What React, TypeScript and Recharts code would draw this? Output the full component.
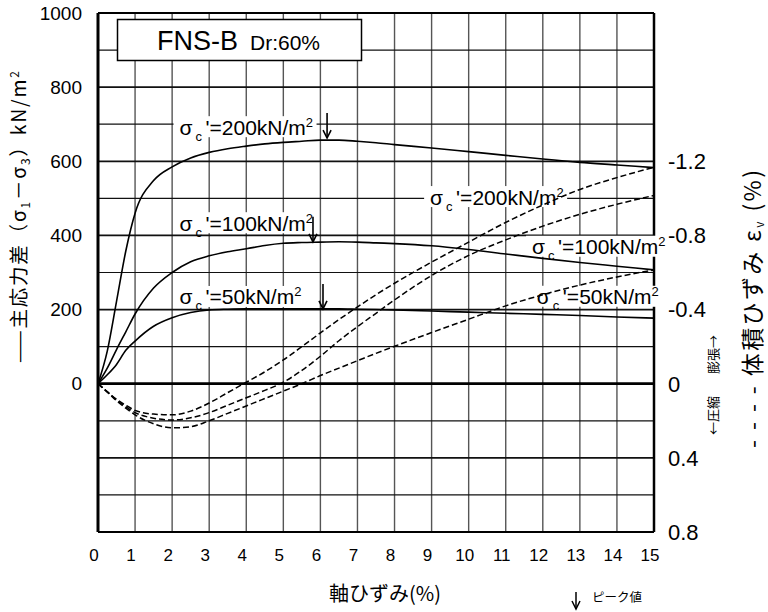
import React from 'react';
import { LineChart, Line, XAxis, YAxis, ReferenceLine, ReferenceDot } from 'recharts';

// axial strain (%) sampled along every curve
const STRAIN = [0, 0.25, 0.5, 0.75, 1, 1.5, 2, 2.5, 3, 3.5, 4, 4.5, 5, 5.5, 6, 6.5, 7, 7.5, 8, 9, 10, 11, 12, 13, 14, 15];

// principal stress difference (σ1−σ3), kN/m², per confining pressure
const Q_200 = [0, 88, 222, 358, 460, 548, 585, 609, 624, 634, 641, 647, 651, 654, 657, 657, 654, 650, 645, 636, 626, 616, 606, 597, 590, 583];
const Q_100 = [0, 42, 92, 140, 188, 258, 300, 329, 345, 356, 364, 373, 379, 381, 382, 383, 382, 380, 378, 372, 362, 350, 338, 327, 317, 307];
const Q_50 = [0, 24, 52, 90, 115, 155, 178, 192, 199, 201, 202, 202, 202, 202, 202, 202, 201, 200, 199, 196, 193, 190, 187, 184, 180, 177];

// volumetric strain εv (%), compression positive
const EV_200 = [0, 0.044, 0.084, 0.116, 0.144, 0.164, 0.168, 0.148, 0.104, 0.048, -0.008, -0.064, -0.128, -0.2, -0.274, -0.346, -0.414, -0.48, -0.542, -0.656, -0.764, -0.87, -0.964, -1.048, -1.112, -1.168];
const EV_100 = [0, 0.044, 0.088, 0.124, 0.156, 0.186, 0.196, 0.184, 0.156, 0.116, 0.076, 0.036, -0.008, -0.072, -0.148, -0.232, -0.308, -0.38, -0.452, -0.584, -0.692, -0.776, -0.85, -0.914, -0.968, -1.016];
const EV_50 = [0, 0.044, 0.092, 0.132, 0.168, 0.216, 0.238, 0.232, 0.2, 0.16, 0.12, 0.08, 0.04, 0, -0.044, -0.084, -0.124, -0.164, -0.202, -0.276, -0.348, -0.42, -0.48, -0.532, -0.576, -0.614];

// axes and grid
const STRAIN_TICKS = [0, 1, 2, 3, 4, 5, 6, 7, 8, 9, 10, 11, 12, 13, 14, 15];
const Q_TICKS = [0, 200, 400, 600, 800, 1000];
const EV_TICKS = [-1.2, -0.8, -0.4, 0, 0.4, 0.8];
const GRID_STRAIN = [1, 2, 3, 4, 5, 6, 7, 8, 9, 10, 11, 12, 13, 14];
const GRID_Q = [-300, -200, -100, 100, 200, 300, 400, 500, 600, 700, 800, 900];

// confining pressure tags
const LOADS = ['200', '100', '50'];
const Q_TAG_STRAIN = [2.2, 2.2, 2.2];
const Q_TAG_AT = [692, 433, 234];
const EV_TAG_STRAIN = [8.96, 11.71, 11.84];
const EV_TAG_AT = [-1.007, -0.739, -0.469];
const PEAK_STRAIN = [6.18, 5.8, 6.07];
const PEAK_Q = [660, 380, 199];

const ROWS = STRAIN.map((s, i) => ({
  strain: s,
  q200: Q_200[i],
  q100: Q_100[i],
  q50: Q_50[i],
  ev200: EV_200[i],
  ev100: EV_100[i],
  ev50: EV_50[i],
}));

const FONT = "'Liberation Sans', Arial, Helvetica, sans-serif";
const JP = "'Noto Sans CJK JP', 'Noto Sans', sans-serif";

const XTick = (p: any) => (
  <text x={p.x - 4} y={p.y} dy="0.71em" textAnchor="middle" fontSize={17} fontFamily={FONT} fill="#000">
    {p.payload.value}
  </text>
);

const QTick = (p: any) => (
  <text x={p.x} y={p.y} dy="0.355em" textAnchor="end" fontSize={19} fontFamily={FONT} fill="#000">
    {p.payload.value}
  </text>
);

const EvTick = (p: any) => {
  const v = p.payload.value as number;
  return (
    <text x={p.x} y={p.y} dy="0.355em" textAnchor="start" fontSize={22} fontFamily={FONT} fill="#000">
      {v === 0 ? '0' : v.toFixed(1)}
    </text>
  );
};

const sigmaTag = (load: string) => (p: any) => {
  const x = p.cx;
  const base = p.cy + 7.5;
  const w = load.length > 2 ? 143 : 131;
  return (
    <g>
      <rect x={x - 6} y={p.cy - 11} width={w} height={21} fill="#fff" />
      <text fontFamily={FONT} fontSize={21} fill="#000">
        <tspan x={x} y={base}>σ</tspan>
        <tspan x={x + 16} y={base + 6} fontSize={13}>c</tspan>
        <tspan x={x + 26} y={base}>{`'=${load}kN/m`}</tspan>
        <tspan dy={-8} fontSize={13}>2</tspan>
      </text>
    </g>
  );
};

const peakArrow = (p: any) => (
  <g stroke="#000" strokeWidth={1.6} fill="none">
    <line x1={p.cx} y1={p.cy - 26} x2={p.cx} y2={p.cy - 1} />
    <polyline points={`${p.cx - 4},${p.cy - 9} ${p.cx},${p.cy - 1} ${p.cx + 4},${p.cy - 9}`} />
  </g>
);

export default function App() {
  return (
    <div style={{ position: 'fixed', left: 0, top: 0, width: 768, height: 612, background: '#fff' }}>
      <LineChart width={768} height={612} data={ROWS} margin={{ top: 13, right: 54, bottom: 40, left: 38 }}>
        <XAxis
          dataKey="strain"
          type="number"
          domain={[0, 15]}
          ticks={STRAIN_TICKS}
          interval={0}
          height={40}
          tickSize={0}
          tickMargin={17}
          axisLine={false}
          tickLine={false}
          tick={XTick}
        />
        <YAxis
          yAxisId="q"
          orientation="left"
          type="number"
          width={60}
          domain={[-400, 1000]}
          ticks={Q_TICKS}
          interval={0}
          tickSize={0}
          tickMargin={16}
          axisLine={false}
          tickLine={false}
          tick={QTick}
        />
        <YAxis
          yAxisId="ev"
          orientation="right"
          type="number"
          width={60}
          domain={[-2, 0.8]}
          reversed
          ticks={EV_TICKS}
          interval={0}
          tickSize={0}
          tickMargin={14}
          axisLine={false}
          tickLine={false}
          tick={EvTick}
        />

        {GRID_STRAIN.map((s) => (
          <ReferenceLine key={`gx${s}`} x={s} yAxisId="q" stroke="#555" strokeWidth={1.4} zIndex={0} />
        ))}
        {GRID_Q.map((v) => (
          <ReferenceLine key={`gy${v}`} y={v} yAxisId="q" stroke="#111" strokeWidth={v % 200 === 0 ? 1.7 : 1.2} zIndex={0} />
        ))}
        <ReferenceLine y={0} yAxisId="q" stroke="#000" strokeWidth={2.8} zIndex={0} />
        <ReferenceLine y={1000} yAxisId="q" stroke="#000" strokeWidth={2} zIndex={0} />
        <ReferenceLine y={-400} yAxisId="q" stroke="#000" strokeWidth={2.2} zIndex={0} />
        <ReferenceLine x={0} yAxisId="q" stroke="#000" strokeWidth={3} zIndex={0} />
        <ReferenceLine x={15} yAxisId="q" stroke="#000" strokeWidth={2.5} zIndex={0} />

        {LOADS.map((load, i) => (
          <ReferenceDot key={`qt${load}`} x={Q_TAG_STRAIN[i]} y={Q_TAG_AT[i]} yAxisId="q" r={0} zIndex={50} shape={sigmaTag(load)} />
        ))}
        {LOADS.map((load, i) => (
          <ReferenceDot key={`et${load}`} x={EV_TAG_STRAIN[i]} y={EV_TAG_AT[i]} yAxisId="ev" r={0} zIndex={50} shape={sigmaTag(load)} />
        ))}
        {LOADS.map((load, i) => (
          <ReferenceDot key={`pk${load}`} x={PEAK_STRAIN[i]} y={PEAK_Q[i]} yAxisId="q" r={0} zIndex={60} shape={peakArrow} />
        ))}

        <Line yAxisId="q" dataKey="q200" type="monotone" stroke="#000" strokeWidth={1.6} dot={false} activeDot={false} isAnimationActive={false} />
        <Line yAxisId="q" dataKey="q100" type="monotone" stroke="#000" strokeWidth={1.6} dot={false} activeDot={false} isAnimationActive={false} />
        <Line yAxisId="q" dataKey="q50" type="monotone" stroke="#000" strokeWidth={1.6} dot={false} activeDot={false} isAnimationActive={false} />
        <Line yAxisId="ev" dataKey="ev200" type="monotone" stroke="#000" strokeWidth={1.5} strokeDasharray="6 3" dot={false} activeDot={false} isAnimationActive={false} />
        <Line yAxisId="ev" dataKey="ev100" type="monotone" stroke="#000" strokeWidth={1.5} strokeDasharray="6 3" dot={false} activeDot={false} isAnimationActive={false} />
        <Line yAxisId="ev" dataKey="ev50" type="monotone" stroke="#000" strokeWidth={1.5} strokeDasharray="6 3" dot={false} activeDot={false} isAnimationActive={false} />
      </LineChart>

      <svg width={768} height={612} style={{ position: 'absolute', left: 0, top: 0, pointerEvents: 'none' }}>
        {/* specimen title */}
        <rect x={117.5} y={19.5} width={244} height={41} fill="#fff" stroke="#000" strokeWidth={1.5} />
        <text x={157} y={50} fontFamily={FONT} fill="#000">
          <tspan fontSize={27}>FNS-B</tspan>
          <tspan x={250} fontSize={21}>Dr:60%</tspan>
        </text>

        {/* left axis title */}
        <text
          transform="translate(19,217) rotate(-90)"
          textAnchor="middle"
          fontFamily={JP}
          fontSize={19.5}
          fill="#000"
          textLength={292}
          lengthAdjust="spacing"
        >
          <tspan dy="0.35em">——主応力差（σ</tspan>
          <tspan fontSize={12} dy={4}>1</tspan>
          <tspan dy={-4}>－σ</tspan>
          <tspan fontSize={12} dy={4}>3</tspan>
          <tspan dy={-4}>）kN/m</tspan>
          <tspan fontSize={12} dy={-7}>2</tspan>
        </text>

        {/* right axis title */}
        <text
          transform="translate(753,309) rotate(-90)"
          textAnchor="middle"
          fontFamily={JP}
          fontSize={23}
          fill="#000"
          textLength={278}
          lengthAdjust="spacing"
        >
          <tspan dy="0.35em">{'-\u00a0-\u00a0-\u00a0-'}</tspan>
          <tspan>{'\u00a0体積ひずみ\u00a0ε'}</tspan>
          <tspan fontSize={12} dy={3}>v</tspan>
          <tspan dy={-3}>{'\u00a0(%)'}</tspan>
        </text>

        {/* compression / dilation hint */}
        <g transform="translate(713,385) rotate(-90)" fontFamily={JP} fontSize={13} fill="#000">
          <text x={-11} y={0} dy="0.35em" textAnchor="end">←圧縮</text>
          <text x={11} y={0} dy="0.35em" textAnchor="start">膨張→</text>
        </g>

        {/* x axis title */}
        <text x={385} y={594} dy="0.35em" textAnchor="middle" fontFamily={JP} fontSize={20} fill="#000">
          軸ひずみ(%)
        </text>

        {/* peak marker key */}
        <g stroke="#000" strokeWidth={1.5} fill="none">
          <line x1={576} y1={592} x2={576} y2={609} />
          <polyline points="572,601 576,609 580,601" />
        </g>
        <text x={592} y={598} dy="0.35em" fontFamily={JP} fontSize={12.5} fill="#000">
          ピーク値
        </text>
      </svg>
    </div>
  );
}
